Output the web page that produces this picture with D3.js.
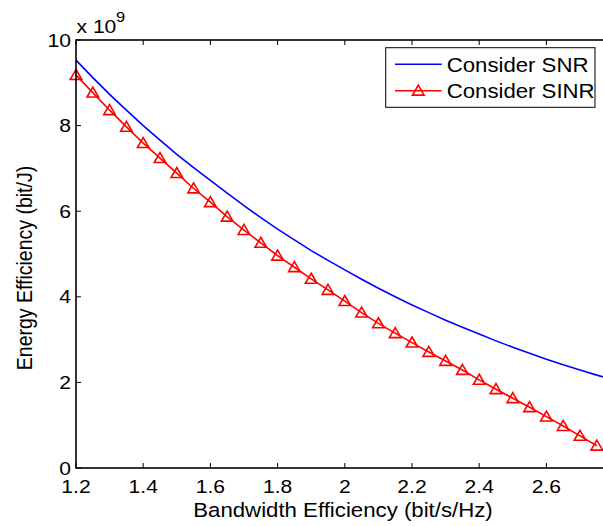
<!DOCTYPE html>
<html>
<head>
<meta charset="utf-8">
<script src="https://cdn.jsdelivr.net/npm/d3@7"></script>
<style>
  html, body { margin: 0; padding: 0; background: #fff; }
  svg { display: block; font-family: "Liberation Sans", Arial, Helvetica, sans-serif; }
</style>
</head>
<body>
<svg id="chart" width="603" height="526"></svg>
<script>
// Bandwidth efficiency samples (bit/s/Hz)
const bwSNR = [1.20,1.25,1.30,1.35,1.40,1.45,1.50,1.55,1.60,1.65,1.70,1.75,1.80,1.85,1.90,1.95,
               2.00,2.05,2.10,2.15,2.20,2.25,2.30,2.35,2.40,2.45,2.50,2.55,2.60,2.65,2.70,2.75,2.80];
const bwSINR = [1.20,1.25,1.30,1.35,1.40,1.45,1.50,1.55,1.60,1.65,1.70,1.75,1.80,1.85,1.90,1.95,
                2.00,2.05,2.10,2.15,2.20,2.25,2.30,2.35,2.40,2.45,2.50,2.55,2.60,2.65,2.70,2.75];
// Energy efficiency, in units of 1e9 bit/J
const eeSNR = [9.53,9.12,8.73,8.36,8.00,7.66,7.33,7.02,6.72,6.42,6.13,5.85,5.58,5.33,5.08,4.85,
               4.63,4.41,4.20,4.00,3.81,3.63,3.45,3.29,3.13,2.97,2.82,2.68,2.54,2.41,2.29,2.17,2.06];
const eeSINR = [9.18,8.77,8.36,7.97,7.59,7.24,6.89,6.53,6.21,5.87,5.56,5.26,4.96,4.69,4.42,4.16,
                3.90,3.63,3.38,3.15,2.93,2.71,2.50,2.29,2.06,1.84,1.63,1.42,1.20,0.98,0.75,0.52];
const xTicks = [1.2,1.4,1.6,1.8,2.0,2.2,2.4,2.6,2.8];
const xTickLabels = ["1.2","1.4","1.6","1.8","2","2.2","2.4","2.6"];
const yTicks = [0,2,4,6,8,10];
const yTickLabels = ["0","2","4","6","8","10"];
const seriesNames = ["Consider SNR","Consider SINR"];
const seriesColors = ["#0000ff","#ff0000"];

const svg = d3.select("#chart");
const L = 76, R = 613.6, T = 40, B = 468;
const x = d3.scaleLinear().domain([1.2, 2.8]).range([L, R]);
const y = d3.scaleLinear().domain([0, 10]).range([B, T]);

// text with a slight horizontal stretch, like the exported figure
const SX = 1.14;
function stext(g, px, py, str, size, anchor, rot, sx) {
  return g.append("text")
    .attr("transform", `translate(${px},${py}) scale(${sx || SX},1)` + (rot ? ` rotate(${rot})` : ""))
    .attr("font-size", size)
    .attr("text-anchor", anchor || "start")
    .attr("fill", "#000")
    .text(str);
}

// data lines
const line = d3.line().x(d => x(d[0])).y(d => y(d[1]));
svg.append("path")
  .attr("d", line(bwSNR.map((v, i) => [v, eeSNR[i]])))
  .attr("fill", "none").attr("stroke", seriesColors[0]).attr("stroke-width", 1.6);
svg.append("path")
  .attr("d", line(bwSINR.map((v, i) => [v, eeSINR[i]])))
  .attr("fill", "none").attr("stroke", seriesColors[1]).attr("stroke-width", 1.6);

function tri(g, cx, cy) {
  const w = 5.8, h = 5;
  g.append("path")
    .attr("d", `M${cx},${cy - h - 0.6}L${cx + w},${cy + h - 0.6}L${cx - w},${cy + h - 0.6}Z`)
    .attr("fill", "none").attr("stroke", seriesColors[1]).attr("stroke-width", 1.6)
    .attr("stroke-linejoin", "miter");
}
const mk = svg.append("g");
bwSINR.forEach((v, i) => tri(mk, x(v), y(eeSINR[i])));

// axes box and ticks
const ax = svg.append("g").attr("stroke", "#000").attr("stroke-width", 1.6).attr("fill", "none");
ax.append("rect").attr("x", L).attr("y", T).attr("width", R - L).attr("height", B - T);
xTicks.forEach(t => {
  ax.append("line").attr("x1", x(t)).attr("x2", x(t)).attr("y1", B).attr("y2", B - 5).attr("stroke-width", 1);
  ax.append("line").attr("x1", x(t)).attr("x2", x(t)).attr("y1", T).attr("y2", T + 5).attr("stroke-width", 1);
});
yTicks.forEach(t => {
  ax.append("line").attr("x1", L).attr("x2", L + 5).attr("y1", y(t)).attr("y2", y(t)).attr("stroke-width", 1);
  ax.append("line").attr("x1", R).attr("x2", R - 5).attr("y1", y(t)).attr("y2", y(t)).attr("stroke-width", 1);
});

// tick labels (the 2.8 label falls outside the figure)
const lab = svg.append("g");
xTickLabels.forEach((s, i) => stext(lab, x(xTicks[i]), 493, s, 18.5, "middle"));
yTicks.forEach((t, i) => stext(lab, 71, y(t) + 6.6, yTickLabels[i], 18.5, "end"));

// exponent
stext(lab, 76.5, 33, "x 10", 18.5, "start");
stext(lab, 116, 22, "9", 14.5, "start");

// axis titles
stext(lab, 343, 517, "Bandwidth Efficiency (bit/s/Hz)", 19.5, "middle");
stext(lab, 32, 268, "Energy Efficiency (bit/J)", 19.5, "middle", -90);

// legend
const lg = svg.append("g");
lg.append("rect").attr("x", 385.7).attr("y", 47.7).attr("width", 209.3).attr("height", 59.6)
  .attr("fill", "#fff").attr("stroke", "#000").attr("stroke-width", 1);
const rows = [64.3, 90.7];
rows.forEach((ry, i) => {
  lg.append("line").attr("x1", 395).attr("x2", 441.7).attr("y1", ry).attr("y2", ry)
    .attr("stroke", seriesColors[i]).attr("stroke-width", 1.6);
  stext(lg, 446.7, ry + 7.2, seriesNames[i], 20, "start", 0, 1.11);
});
tri(lg, 418.3, rows[1]);
</script>
</body>
</html>
